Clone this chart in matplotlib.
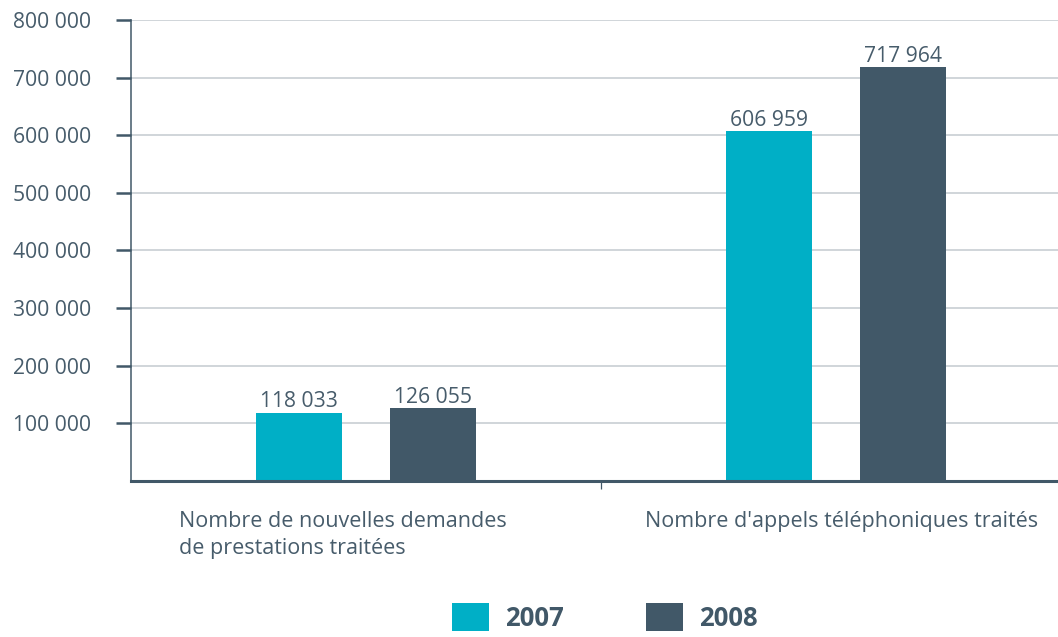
import matplotlib
matplotlib.use("Agg")
import matplotlib.pyplot as plt
from matplotlib.ticker import FuncFormatter
import numpy as np

categories = ["Nombre de nouvelles demandes\nde prestations traitées",
              "Nombre d'appels téléphoniques traités"]
years = ["2007", "2008"]
values_2007 = [118033, 606959]
values_2008 = [126055, 717964]
value_labels_2007 = ["118 033", "606 959"]
value_labels_2008 = ["126 055", "717 964"]
yticks = [100000, 200000, 300000, 400000, 500000, 600000, 700000, 800000]

c2007 = "#00AFC6"
c2008 = "#415868"
txt = "#475C6B"
plt.rcParams['font.family'] = ['Open Sans', 'DejaVu Sans']

fig = plt.figure(figsize=(10.58, 6.37), dpi=100)
ax = fig.add_axes([131/1058, 156/637, 940/1058, 461/637])

x = np.arange(len(categories))
w = 0.183
off = 0.143
b1 = ax.bar(x - off, values_2007, w, color=c2007, zorder=3, label=years[0])
b2 = ax.bar(x + off, values_2008, w, color=c2008, zorder=3, label=years[1])

for bars, labs in ((b1, value_labels_2007), (b2, value_labels_2008)):
    for r, l in zip(bars, labs):
        ax.annotate(l, (r.get_x() + r.get_width()/2, r.get_height()),
                    xytext=(0, 0.5), textcoords='offset points', ha='center', va='bottom',
                    fontsize=15.2, color=txt)

ax.set_xlim(-0.5, 1.5)
ax.set_ylim(0, 800000)
ax.set_yticks(yticks)
ax.yaxis.set_major_formatter(FuncFormatter(lambda v, p: f"{int(v):,}".replace(",", " ")))
ax.tick_params(axis='y', direction='out', length=10.8, width=1.8, color=c2008,
               labelsize=15.2, labelcolor=txt, pad=18)
ax.grid(axis='y', color='#C3CAD0', lw=1.1, zorder=0)
ax.set_axisbelow(True)

ax.set_xticks([])
ax.set_xticks([0.5], minor=True)
ax.tick_params(axis='x', which='minor', direction='out', length=6, width=0.9, color=c2008)
ax.tick_params(axis='x', which='major', length=0)

for s in ('top', 'right'):
    ax.spines[s].set_visible(False)
ax.spines['left'].set_color(c2008)
ax.spines['left'].set_linewidth(1.1)
ax.spines['bottom'].set_color(c2008)
ax.spines['bottom'].set_linewidth(2.2)
ax.spines['bottom'].set_zorder(4)

# category labels
ax.annotate(categories[0], (x[0], 0), xycoords=('data', 'axes fraction'),
            xytext=(-187, -30), textcoords='offset pixels', ha='left', va='top',
            fontsize=15.5, color=txt, linespacing=1.38, annotation_clip=False)
ax.annotate(categories[1], (x[1], 0), xycoords=('data', 'axes fraction'),
            xytext=(6, -30), textcoords='offset pixels', ha='center', va='top',
            fontsize=15.5, color=txt, annotation_clip=False)

leg = fig.legend(handles=[b1, b2], labels=years, loc='lower center',
                 bbox_to_anchor=(605/1058, -0.008), ncol=2, frameon=False,
                 prop={'size': 18.5, 'weight': 'bold'}, handlelength=1.43, handleheight=1.3,
                 handletextpad=0.62, columnspacing=3.2, borderaxespad=0)
for t in leg.get_texts():
    t.set_color(c2008)

fig.savefig("out.png", dpi=100)
